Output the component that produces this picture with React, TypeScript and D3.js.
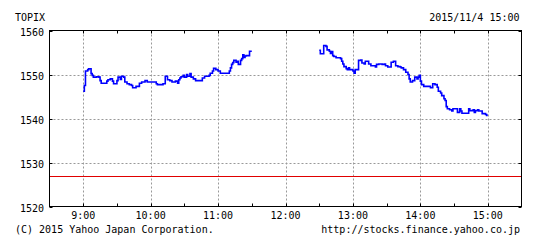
import React from "react";
import * as d3 from "d3";

// minutes after 9:00 , TOPIX value (morning session 9:00-11:30)
const morning: [number, number][] = [
  [0, 1546.2], [1, 1547.5], [2, 1550.8], [4, 1551.1], [5, 1551.3], [7, 1550.2], [8, 1549.8],
  [9, 1549.4], [12, 1549.5], [14, 1549.4], [15, 1548.6], [16, 1548.0], [21, 1548.5], [22, 1548.8],
  [24, 1549.0], [26, 1548.5], [27, 1547.9], [30, 1548.6], [31, 1549.4], [33, 1548.9], [34, 1549.6],
  [36, 1549.4], [37, 1548.3], [39, 1547.9], [41, 1547.7], [43, 1547.5], [44, 1547.0], [47, 1547.3],
  [50, 1548.0], [52, 1548.3], [55, 1548.6], [57, 1548.3], [65, 1547.9], [66, 1547.7], [71, 1547.9],
  [73, 1549.6], [75, 1548.8], [77, 1548.6], [79, 1548.3], [82, 1548.5], [84, 1548.0], [85, 1548.8],
  [86, 1549.2], [87, 1549.5], [89, 1549.8], [90, 1549.4], [92, 1550.0], [93, 1549.6], [95, 1550.2],
  [96, 1549.4], [98, 1549.0], [100, 1548.6], [106, 1549.2], [108, 1549.6], [112, 1549.8], [113, 1550.3],
  [115, 1550.8], [116, 1551.4], [118, 1551.1], [120, 1550.8], [122, 1550.3], [130, 1550.8], [131, 1551.5],
  [132, 1552.3], [133, 1552.7], [134, 1553.2], [136, 1552.8], [137, 1553.0], [138, 1552.3], [140, 1553.2],
  [141, 1553.6], [142, 1554.5], [143, 1553.9], [144, 1554.2], [145, 1554.3], [148, 1555.3], [150, 1555.3],
];

// minutes after 12:30 , TOPIX value (afternoon session 12:30-15:00)
const afternoon: [number, number][] = [
  [0, 1555.5], [1, 1554.7], [4, 1556.6], [6, 1556.4], [7, 1555.6], [9, 1555.3], [10, 1554.8],
  [11, 1555.2], [12, 1554.3], [13, 1554.1], [15, 1553.8], [19, 1553.6], [20, 1553.0], [21, 1552.4],
  [22, 1551.8], [24, 1551.3], [25, 1551.1], [26, 1551.5], [27, 1551.1], [30, 1550.8], [31, 1550.3],
  [32, 1551.1], [35, 1553.2], [37, 1553.3], [38, 1552.6], [40, 1552.4], [41, 1553.0], [44, 1552.4],
  [46, 1552.0], [50, 1551.7], [51, 1552.3], [53, 1552.4], [56, 1552.3], [58, 1552.4], [59, 1552.0],
  [61, 1551.7], [64, 1552.8], [66, 1553.0], [68, 1552.0], [70, 1551.8], [72, 1551.7], [73, 1551.5],
  [75, 1551.1], [77, 1550.5], [79, 1550.0], [80, 1549.0], [81, 1548.3], [83, 1548.6], [85, 1549.4],
  [87, 1549.0], [88, 1549.4], [89, 1549.8], [90, 1548.5], [91, 1547.7], [93, 1547.3], [99, 1547.0],
  [101, 1547.9], [103, 1547.7], [105, 1547.1], [106, 1546.2], [108, 1545.8], [109, 1545.2], [111, 1544.5],
  [112, 1544.1], [113, 1542.7], [114, 1542.2], [116, 1542.0], [118, 1541.7], [119, 1542.2], [123, 1541.4],
  [125, 1542.2], [126, 1541.7], [127, 1541.2], [133, 1542.2], [134, 1541.8], [137, 1542.0], [138, 1541.4],
  [139, 1541.8], [141, 1542.0], [142, 1541.7], [145, 1541.1], [148, 1540.9], [149, 1540.7], [150, 1540.7],
];

const yTicks = [1520, 1530, 1540, 1550, 1560];
const hourLabels = ["9:00", "10:00", "11:00", "12:00", "13:00", "14:00", "15:00"];
const prevClose = 1527.0;
const title = "TOPIX";
const stamp = "2015/11/4 15:00";
const copyright = "(C) 2015 Yahoo Japan Corporation.";
const url = "http://stocks.finance.yahoo.co.jp";

const W = 544;
const H = 246;
const FONT = "'DejaVu Sans Mono', monospace";

export default function App() {
  // minutes from 8:30 to 15:30
  const x = d3.scaleLinear().domain([0, 420]).range([49.5, 521.5]);
  const y = d3.scaleLinear().domain([1520, 1560]).range([206.5, 30.5]);
  const px = (m: number) => Math.round(x(m)) + 0.5;
  const py = (v: number) => Math.round(y(v)) + 0.5;

  const line = d3
    .line<[number, number]>()
    .x((d) => x(d[0]))
    .y((d) => y(d[1]))
    .curve(d3.curveStepAfter);

  const mPath = line(morning.map((d) => [d[0] + 30, d[1]] as [number, number])) || "";
  const aPath = line(afternoon.map((d) => [d[0] + 240, d[1]] as [number, number])) || "";

  const halfHours = d3.range(30, 391, 30);
  const hours = d3.range(30, 391, 60);
  const [x0, x1] = x.range();
  const [yb, yt] = y.range();

  return (
    <svg
      width={W}
      height={H}
      style={{ position: "absolute", left: 0, top: 0, background: "#fff" }}
      fontFamily={FONT}
      fontSize={10}
    >
      <rect x={0} y={0} width={W} height={H} fill="#fff" />
      {/* horizontal grid */}
      {yTicks.slice(1, -1).map((v) => (
        <line key={"hg" + v} x1={x0} x2={x1} y1={py(v)} y2={py(v)} stroke="#999" strokeDasharray="2,2" />
      ))}
      {/* vertical grid */}
      {hours.map((m) => (
        <line key={"vg" + m} x1={px(m)} x2={px(m)} y1={yt} y2={yb} stroke="#999" strokeDasharray="2,2" />
      ))}
      {/* previous close */}
      <line x1={x0} x2={x1} y1={py(prevClose)} y2={py(prevClose)} stroke="#e00000" />
      {/* price line */}
      <path d={mPath} fill="none" stroke="#0000ff" strokeWidth={1.6} />
      <path d={aPath} fill="none" stroke="#0000ff" strokeWidth={1.6} />
      {/* frame */}
      <rect x={x0} y={yt} width={x1 - x0} height={yb - yt} fill="none" stroke="#000" />
      {/* ticks */}
      {halfHours.map((m) => (
        <g key={"t" + m}>
          <line x1={px(m)} x2={px(m)} y1={yt} y2={yt + 3} stroke="#000" />
          <line x1={px(m)} x2={px(m)} y1={yb} y2={yb - 3} stroke="#000" />
        </g>
      ))}
      {yTicks.map((v) => (
        <g key={"yt" + v}>
          <line x1={x0} x2={x0 + 3} y1={py(v)} y2={py(v)} stroke="#000" />
          <line x1={x1} x2={x1 - 3} y1={py(v)} y2={py(v)} stroke="#000" />
          <text x={44} y={y(v) + 5} textAnchor="end" fill="#000">
            {v}
          </text>
        </g>
      ))}
      {hours.map((m, i) => (
        <text key={"xl" + m} x={x(m)} y={219} textAnchor="middle" fill="#000">
          {hourLabels[i]}
        </text>
      ))}
      <text x={15} y={21} fill="#000">{title}</text>
      <text x={519.5} y={20.5} textAnchor="end" fill="#000">{stamp}</text>
      <text x={15} y={233} fill="#000">{copyright}</text>
      <text x={520} y={233} textAnchor="end" fill="#000">{url}</text>
    </svg>
  );
}
